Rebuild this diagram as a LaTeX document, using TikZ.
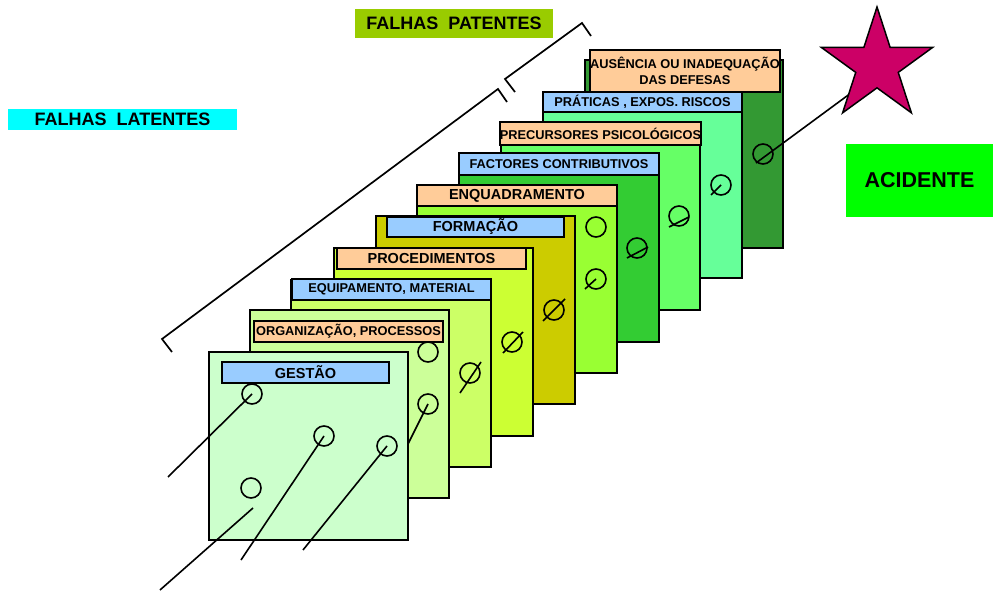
\documentclass[tikz,border=0pt]{standalone}
\usepackage{fontspec}
\setmainfont{Liberation Sans}
\usetikzlibrary{shapes.geometric}
\definecolor{lblue}{HTML}{99CCFF}
\definecolor{lorange}{HTML}{FFCC99}
\definecolor{pa}{HTML}{CCFFCC}
\definecolor{pb}{HTML}{CCFF99}
\definecolor{pc}{HTML}{CCFF66}
\definecolor{pd}{HTML}{CCFF33}
\definecolor{pe}{HTML}{CCCC00}
\definecolor{pf}{HTML}{99FF33}
\definecolor{pg}{HTML}{33CC33}
\definecolor{ph}{HTML}{66FF66}
\definecolor{pi}{HTML}{66FF99}
\definecolor{pj}{HTML}{339933}
\definecolor{patgreen}{HTML}{99CC00}
\definecolor{latcyan}{HTML}{00FFFF}
\definecolor{accgreen}{HTML}{00FF00}
\definecolor{starred}{HTML}{CC0066}
\begin{document}
\begin{tikzpicture}[x=1pt,y=-1pt,
  panel/.style={draw=black, line width=1.8pt, anchor=north west, inner sep=0pt, outer sep=0pt},
  lab/.style={draw=black, line width=1.6pt, inner sep=0pt, outer sep=0pt, align=center,
    font=\bfseries\fontsize{12.8}{16}\selectfont},
  biglab/.style={lab, font=\bfseries\fontsize{14.5}{16}\selectfont},
  hole/.style={circle, draw=black, line width=1.6pt, minimum size=20pt, inner sep=0pt},
  ray/.style={draw=black, line width=1.6pt},
  brk/.style={draw=black, line width=1.7pt},
  title/.style={inner sep=0pt, font=\bfseries\fontsize{18}{20}\selectfont}]
\useasboundingbox (0,0) rectangle (993,593);

% ---------- titles ----------
\node[title, fill=latcyan, minimum width=229pt, minimum height=21pt] (latentes) at (122.5,119.5) {FALHAS\ \ LATENTES};
\node[title, fill=patgreen, minimum width=198pt, minimum height=29pt] (patentes) at (454,23.5) {FALHAS\ \ PATENTES};
\node[inner sep=0pt, fill=accgreen, minimum width=147pt, minimum height=73pt,
  font=\bfseries\fontsize{21.5}{24}\selectfont] (acidente) at (919.5,180.5) {ACIDENTE};

% ---------- brackets ----------
\coordinate (b1a) at (172,352);
\coordinate (b1b) at (162,339);
\coordinate (b1c) at (498,89);
\coordinate (b1d) at (507,102);
\draw[brk] (b1a) -- (b1b) -- (b1c) -- (b1d);
\coordinate (b2a) at (515,92);
\coordinate (b2b) at (505,79);
\coordinate (b2c) at (582,23);
\coordinate (b2d) at (591,36);
\draw[brk] (b2a) -- (b2b) -- (b2c) -- (b2d);

% ---------- panel 10 ----------
\node[panel, fill=pj, minimum width=198pt, minimum height=188pt] (p10) at (585,60) {};
\node[lab, fill=lorange, minimum width=188pt, minimum height=42pt] (l10) at (685,71) {AUSÊNCIA OU INADEQUAÇÃO\\DAS DEFESAS};
\node[hole] (c10) at (763,154) {};

% ---------- panel 9 ----------
\node[panel, fill=pi, minimum width=199pt, minimum height=186pt] (p9) at (543,92) {};
\node[lab, fill=lblue, minimum width=199pt, minimum height=20pt] (l9) at (642.5,102) {PRÁTICAS , EXPOS. RISCOS};
\node[hole] (c9) at (721,185) {};
\coordinate (r9) at (711,195);
\draw[ray] (r9) -- (c9.center);

% ---------- panel 8 ----------
\node[panel, fill=ph, minimum width=199pt, minimum height=188pt] (p8) at (501,122) {};
\node[lab, fill=lorange, minimum width=199pt, minimum height=23pt] (l8) at (600.5,133.5) {PRECURSORES PSICOLÓGICOS};
\node[hole] (c8) at (679,216) {};
\coordinate (r8a) at (669,227);
\coordinate (r8b) at (689,217);
\draw[ray] (r8a) -- (r8b);

% ---------- panel 7 ----------
\node[panel, fill=pg, minimum width=200pt, minimum height=189pt] (p7) at (459,153) {};
\node[lab, fill=lblue, minimum width=200pt, minimum height=22pt] (l7) at (559,164) {FACTORES CONTRIBUTIVOS};
\node[hole] (c7) at (637,248) {};
\coordinate (r7a) at (627,258);
\coordinate (r7b) at (648,247);
\draw[ray] (r7a) -- (r7b);

% ---------- panel 6 ----------
\node[panel, fill=pf, minimum width=200pt, minimum height=188pt] (p6) at (417,185) {};
\node[biglab, fill=lorange, minimum width=200pt, minimum height=21pt] (l6) at (517,195.5) {ENQUADRAMENTO};
\node[hole] (c6a) at (596,227) {};
\node[hole] (c6b) at (596,279) {};
\coordinate (r6) at (585,289);
\draw[ray] (r6) -- (c6b.center);

% ---------- panel 5 ----------
\node[panel, fill=pe, minimum width=199pt, minimum height=188pt] (p5) at (376,216) {};
\node[biglab, fill=lblue, minimum width=177pt, minimum height=20pt] (l5) at (475.5,227) {FORMAÇÃO};
\node[hole] (c5) at (554,310) {};
\coordinate (r5a) at (543,321);
\coordinate (r5b) at (565,299);
\draw[ray] (r5a) -- (r5b);

% ---------- panel 4 ----------
\node[panel, fill=pd, minimum width=199pt, minimum height=188pt] (p4) at (334,248) {};
\node[biglab, fill=lorange, minimum width=189pt, minimum height=21pt] (l4) at (431.5,258.5) {PROCEDIMENTOS};
\node[hole] (c4) at (512,342) {};
\coordinate (r4a) at (503,353);
\coordinate (r4b) at (523,332);
\draw[ray] (r4a) -- (r4b);

% ---------- panel 3 ----------
\node[panel, fill=pc, minimum width=200pt, minimum height=187pt] (p3) at (291,280) {};
\node[lab, fill=lblue, minimum width=199pt, minimum height=21pt] (l3) at (391.5,289.5) {EQUIPAMENTO, MATERIAL};
\node[hole] (c3) at (470,373) {};
\coordinate (r3a) at (460,393);
\coordinate (r3b) at (481,362);
\draw[ray] (r3a) -- (r3b);

% ---------- panel 2 ----------
\node[panel, fill=pb, minimum width=199pt, minimum height=188pt] (p2) at (250,310) {};
\node[lab, fill=lorange, minimum width=189pt, minimum height=21pt] (l2) at (348.5,331.5) {ORGANIZAÇÃO, PROCESSOS};
\node[hole] (c2a) at (428,352) {};
\node[hole] (c2b) at (428,404) {};
\coordinate (r2) at (404,452);
\draw[ray] (r2) -- (c2b.center);

% ---------- panel 1 ----------
\node[panel, fill=pa, minimum width=199pt, minimum height=188pt] (p1) at (209,352) {};
\node[biglab, fill=lblue, minimum width=167pt, minimum height=21pt] (l1) at (305.5,372.5) {GESTÃO};
\node[hole] (c1a) at (252,394) {};
\node[hole] (c1b) at (324,436) {};
\node[hole] (c1c) at (387,446) {};
\node[hole] (c1d) at (251,488) {};

% ---------- trajectories ----------
\coordinate (ta) at (168,477);
\draw[ray] (ta) -- (c1a.center);
\coordinate (tb) at (241,560);
\draw[ray] (tb) -- (c1b.center);
\coordinate (tc) at (303,550);
\draw[ray] (tc) -- (c1c.center);
\coordinate (td1) at (160,590);
\coordinate (td2) at (253,508);
\draw[ray] (td1) -- (td2);

% ---------- accident ----------
\coordinate (r10) at (756,163);
\coordinate (sp) at (851,93);
\draw[ray] (r10) -- (sp);
\node[star, star points=5, star point ratio=2.618, minimum size=117pt, inner sep=0pt,
  draw=black, line width=1.5pt, fill=starred] (star) at (877,65.5) {};
\end{tikzpicture}
\end{document}
